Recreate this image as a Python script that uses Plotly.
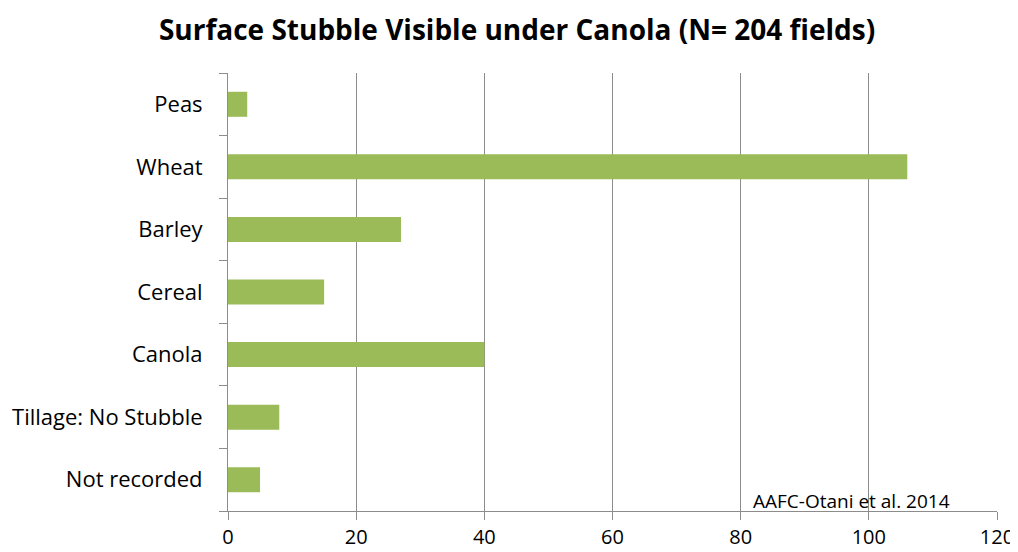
import plotly.graph_objects as go

categories = ["Peas", "Wheat", "Barley", "Cereal", "Canola", "Tillage: No Stubble", "Not recorded"]
values = [3, 106, 27, 15, 40, 8, 5]
x_ticks = [0, 20, 40, 60, 80, 100, 120]

FONT = "Open Sans"

fig = go.Figure(go.Bar(
    x=values, y=categories, orientation="h",
    marker=dict(color="#9BBB59", line=dict(width=0)),
))

fig.update_layout(
    width=1010, height=544,
    paper_bgcolor="white", plot_bgcolor="white",
    margin=dict(l=220, r=21, t=65, b=41, autoexpand=False),
    bargap=0.6,
    showlegend=False,
    title=dict(
        text="<b>Surface Stubble Visible under Canola (N= 204 fields)</b>",
        x=0.504, xanchor="center", y=0.96, yanchor="middle",
        font=dict(family=FONT, size=28, color="black"),
    ),
    xaxis=dict(
        range=[0, 120], tickvals=x_ticks, ticktext=[str(v) for v in x_ticks],
        showgrid=True, gridcolor="#8C8C8C", gridwidth=1,
        zeroline=False, automargin=False,
        showline=True, linecolor="#8C8C8C", linewidth=1,
        ticks="outside", ticklen=8, tickcolor="#8C8C8C",
        ticklabelstandoff=0,
        tickfont=dict(family=FONT, size=20, color="black"),
    ),
    yaxis=dict(
        type="category", categoryorder="array", categoryarray=categories[::-1],
        tickson="boundaries", ticks="outside", ticklen=8, tickcolor="#8C8C8C",
        showline=True, linecolor="#8C8C8C", linewidth=1,
        showgrid=False, automargin=False,
        ticklabelstandoff=20,
        tickfont=dict(family=FONT, size=22, color="black"),
    ),
    annotations=[dict(
        text="AAFC-Otani et al. 2014", xref="paper", yref="paper",
        x=0.811, y=0.0, xanchor="center", yanchor="bottom", yshift=-5,
        showarrow=False, font=dict(family=FONT, size=19, color="black"),
    )],
)

fig.write_html("out.html")
